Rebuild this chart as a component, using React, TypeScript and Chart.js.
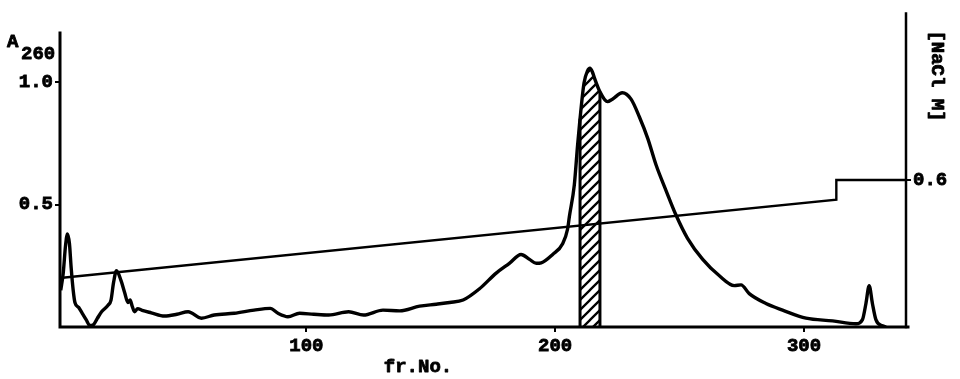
import React, { useEffect, useRef } from "react";
import { Chart, registerables } from "chart.js";

Chart.register(...registerables);

// fraction number (x) and A260 absorbance (left axis)
const frNo = [
  1.3, 2.3, 3.2, 4.0, 4.8, 5.5, 6.3, 7.0, 8.5, 10, 11.5, 13, 14.5, 16, 17.7, 20.3, 21.5, 22.5, 23.7,
  25.5, 27, 28.3, 29.2, 30, 31, 32.2, 34, 37.7, 43, 48, 52.5, 57.8, 63, 71, 79, 85.5, 88.6, 92.6,
  97.3, 103, 109, 117, 123, 130.8, 137.5, 145.5, 152.2, 157.6, 163, 169.6, 176.3, 181.6, 186.3,
  189.7, 192.4, 194.4, 199, 203, 205, 205.7, 207.7, 209, 210, 211.6, 213, 214, 215, 215.8, 218,
  221, 223, 227, 230.5, 233.9, 237.2, 240.6, 244.6, 248.6, 253.2, 259.3, 266, 272, 274.7, 278,
  284.7, 291.4, 300.8, 311.5, 320.9, 323.5, 324.9, 326.2, 327.5, 328.9, 331.5, 333,
];
const a260 = [
  0.15, 0.22, 0.33, 0.38, 0.34, 0.24, 0.15, 0.1, 0.08, 0.055, 0.03, 0.006, 0.01, 0.035, 0.062,
  0.089, 0.11, 0.18, 0.23, 0.19, 0.14, 0.1, 0.11, 0.085, 0.062, 0.075, 0.068, 0.058, 0.045, 0.052,
  0.062, 0.036, 0.049, 0.056, 0.069, 0.076, 0.056, 0.042, 0.056, 0.052, 0.049, 0.062, 0.049,
  0.069, 0.066, 0.085, 0.093, 0.1, 0.11, 0.156, 0.22, 0.26, 0.296, 0.276, 0.26, 0.262, 0.296,
  0.34, 0.4, 0.45, 0.58, 0.74, 0.85, 0.996, 1.045, 1.056, 1.04, 1.016, 0.96, 0.92, 0.93, 0.956,
  0.93, 0.856, 0.77, 0.66, 0.556, 0.456, 0.362, 0.276, 0.209, 0.169, 0.172, 0.136, 0.096, 0.069,
  0.036, 0.025, 0.013, 0.03, 0.096, 0.169, 0.096, 0.03, 0.005, 0.0,
];

// NaCl gradient (right axis)
const gradFr = [1, 313, 313, 341];
const gradNaCl = [0.2, 0.52, 0.6, 0.6];

// hatched (pooled) fractions
const hatchFrom = 210;
const hatchTo = 218;

// tick labels
const xTicks = [100, 200, 300];
const a260Ticks = [0.5, 1.0];
const naclTicks = [0.6];

const FONT = '"Liberation Mono", "Courier New", monospace';

export default function App() {
  const ref = useRef<HTMLCanvasElement | null>(null);

  useEffect(() => {
    const canvas = ref.current!;
    // hatch pattern
    const T = 10;
    const tile = document.createElement("canvas");
    tile.width = T;
    tile.height = T;
    const tc = tile.getContext("2d")!;
    tc.strokeStyle = "#000";
    tc.lineWidth = 2.3;
    tc.beginPath();
    tc.moveTo(0, T);
    tc.lineTo(T, 0);
    tc.moveTo(-2, 2);
    tc.lineTo(2, -2);
    tc.moveTo(T - 2, T + 2);
    tc.lineTo(T + 2, T - 2);
    tc.stroke();
    const pattern = canvas.getContext("2d")!.createPattern(tile, "repeat")!;

    const curve = frNo.map((x, i) => ({ x, y: a260[i] }));
    const hatch = [
      { x: hatchFrom, y: 0 },
      ...curve.filter((p) => p.x >= hatchFrom && p.x <= hatchTo),
      { x: hatchTo, y: 0 },
    ];
    const grad = gradFr.map((x, i) => ({ x, y: gradNaCl[i] }));

    const drawText = (ctx: CanvasRenderingContext2D, t: string, x: number, y: number) => {
      ctx.strokeText(t, x, y);
      ctx.fillText(t, x, y);
    };

    const extras = {
      id: "extras",
      afterDraw(chart: any) {
        const { ctx, chartArea, scales } = chart;
        const y = scales.y;
        ctx.save();
        ctx.strokeStyle = "#000";
        ctx.lineCap = "square";
        // left + bottom axis
        ctx.lineWidth = 3;
        ctx.beginPath();
        ctx.moveTo(chartArea.left, y.getPixelForValue(1.2));
        ctx.lineTo(chartArea.left, chartArea.bottom);
        ctx.lineTo(chartArea.right + 2, chartArea.bottom);
        ctx.stroke();
        // right axis
        ctx.lineWidth = 2.5;
        ctx.beginPath();
        ctx.moveTo(chartArea.right, chartArea.top);
        ctx.lineTo(chartArea.right, chartArea.bottom);
        ctx.stroke();
        // small cross tick on the right axis
        const y06 = scales.y1.getPixelForValue(naclTicks[0]);
        ctx.lineWidth = 2;
        ctx.beginPath();
        ctx.moveTo(chartArea.right - 3, y06);
        ctx.lineTo(chartArea.right, y06);
        ctx.stroke();
        // texts
        ctx.fillStyle = "#000";
        ctx.lineWidth = 0.8;
        ctx.lineCap = "butt";
        ctx.lineJoin = "round";
        ctx.font = `bold 19px ${FONT}`;
        ctx.textAlign = "left";
        ctx.textBaseline = "alphabetic";
        drawText(ctx, "A", 7, 47);
        drawText(ctx, "260", 21, 59);
        ctx.textAlign = "center";
        drawText(ctx, "fr.No.", 418, 372);
        ctx.save();
        ctx.translate(937, 76);
        ctx.rotate(Math.PI / 2);
        ctx.textBaseline = "middle";
        drawText(ctx, "[NaCl M]", 0, 0);
        ctx.restore();
        ctx.restore();
      },
    };

    const tickFont = { family: FONT, size: 19, weight: "bold" as const };
    const tickStyle = {
      color: "#000",
      font: tickFont,
      textStrokeColor: "#000",
      textStrokeWidth: 0.8,
      autoSkip: false,
    };
    const gridStyle = {
      drawOnChartArea: false,
      drawTicks: true,
      tickLength: 5,
      color: "#000",
      lineWidth: 2,
    };

    const chart = new Chart(canvas, {
      type: "line",
      data: {
        datasets: [
          {
            data: curve,
            yAxisID: "y",
            borderColor: "#000",
            borderWidth: 3.4,
            pointRadius: 0,
            cubicInterpolationMode: "monotone",
            fill: false,
            order: 0,
          },
          {
            data: grad,
            yAxisID: "y1",
            borderColor: "#000",
            borderWidth: 2.4,
            pointRadius: 0,
            tension: 0,
            fill: false,
            order: 1,
          },
          {
            data: hatch,
            yAxisID: "y",
            borderColor: "#000",
            backgroundColor: pattern,
            borderWidth: 3,
            pointRadius: 0,
            tension: 0,
            fill: "origin",
            order: 2,
            segment: {
              borderColor: (c: any) =>
                c.p0.parsed.x === c.p1.parsed.x ? "#000" : "rgba(0,0,0,0)",
            },
          } as any,
        ],
      },
      options: {
        responsive: false,
        animation: false,
        layout: { padding: { top: 7, left: 0, right: 0, bottom: 0 } },
        plugins: { legend: { display: false }, tooltip: { enabled: false } },
        scales: {
          x: {
            type: "linear",
            min: 1,
            max: 341,
            afterBuildTicks: (s: any) => {
              s.ticks = xTicks.map((value) => ({ value }));
            },
            afterFit: (s: any) => {
              s.height = 52;
            },
            border: { display: false },
            grid: gridStyle,
            ticks: {
              ...tickStyle,
              padding: 3,
              maxRotation: 0,
              callback: (v: any) => String(v),
            },
          },
          y: {
            type: "linear",
            position: "left",
            min: 0,
            max: 1.28,
            afterBuildTicks: (s: any) => {
              s.ticks = a260Ticks.map((value) => ({ value }));
            },
            afterFit: (s: any) => {
              s.width = 60;
            },
            border: { display: false },
            grid: gridStyle,
            ticks: {
              ...tickStyle,
              padding: 2,
              callback: (v: any) => Number(v).toFixed(1),
            },
          },
          y1: {
            type: "linear",
            position: "right",
            min: 0,
            max: 1.28,
            afterBuildTicks: (s: any) => {
              s.ticks = naclTicks.map((value) => ({ value }));
            },
            afterFit: (s: any) => {
              s.width = 54;
            },
            border: { display: false },
            grid: gridStyle,
            ticks: {
              ...tickStyle,
              padding: 2,
              callback: (v: any) => Number(v).toFixed(1),
            },
          },
        },
      },
      plugins: [extras],
    });

    return () => chart.destroy();
  }, []);

  return (
    <div style={{ position: "fixed", left: 0, top: 0, width: 960, height: 379, background: "#fff" }}>
      <canvas ref={ref} width={960} height={379} style={{ display: "block" }} />
    </div>
  );
}
